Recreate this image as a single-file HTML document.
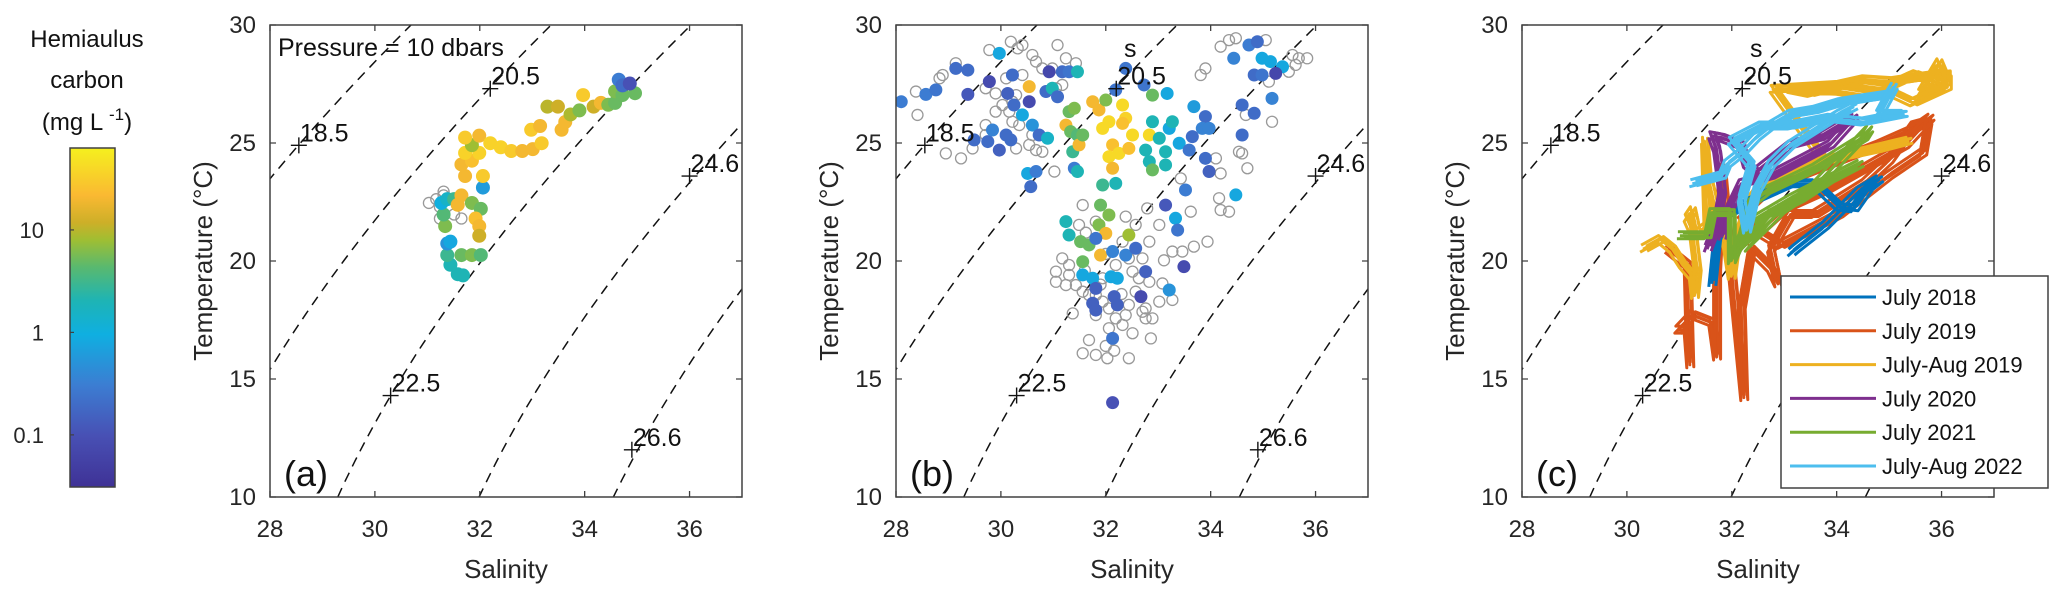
<!DOCTYPE html>
<html><head><meta charset="utf-8"><style>
html,body{margin:0;padding:0;background:#fff;}
svg{display:block;font-family:"Liberation Sans",sans-serif;}
</style></head><body>
<svg id="fig" width="2067" height="603" viewBox="0 0 2067 603" xmlns="http://www.w3.org/2000/svg">
<defs>
<linearGradient id="parula" x1="0" y1="1" x2="0" y2="0">
<stop offset="0" stop-color="rgb(63,50,150)"/><stop offset="0.15" stop-color="rgb(72,80,180)"/>
<stop offset="0.30" stop-color="rgb(60,125,210)"/><stop offset="0.45" stop-color="rgb(15,175,225)"/>
<stop offset="0.55" stop-color="rgb(30,180,180)"/><stop offset="0.65" stop-color="rgb(90,185,110)"/>
<stop offset="0.73" stop-color="rgb(160,190,50)"/><stop offset="0.78" stop-color="rgb(205,175,40)"/>
<stop offset="0.86" stop-color="rgb(250,185,50)"/><stop offset="1" stop-color="rgb(245,240,30)"/>
</linearGradient>
</defs>
<g>
<text x="87" y="47" font-size="24" text-anchor="middle" fill="#111">Hemiaulus</text>
<text x="87" y="88" font-size="24" text-anchor="middle" fill="#111">carbon</text>
<text x="87" y="130" font-size="24" text-anchor="middle" fill="#111">(mg L <tspan dy="-10" font-size="17">-1</tspan><tspan dy="10">)</tspan></text>
<rect x="70" y="148" width="45" height="339" fill="url(#parula)" stroke="#404040" stroke-width="1.5"/>
<g id="cbticks"></g>
</g>
<g id="panels"></g>
</svg>
<script>
// ---------- data ----------
const salTicks = [28, 30, 32, 34, 36];
const tempTicks = [10, 15, 20, 25, 30];
const cbTicks = [0.1, 1, 10];
const cbTickLabels = ['0.1', '1', '10'];
const sigmaLevels = [18.5, 20.5, 22.5, 24.6, 26.6];
const sigmaLabelPos = [[28.55, 24.9], [32.2, 27.3], [30.3, 14.3], [36.0, 23.6], [34.9, 12.0]];

// panel (a): [salinity, temperature, carbon mg/L]
const pointsA = [[31.58,19.44,2],[31.68,19.39,2],[31.44,19.84,2],[31.38,20.25,3],[31.65,20.25,5],[31.85,20.25,6],[32.02,20.25,4],[31.38,20.74,.5],[31.44,20.82,.8],[31.34,21.48,6],[31.31,21.97,4],[31.27,22.46,1],[31.38,22.62,1.5],[31.51,22.62,3],[31.58,22.38,20],[31.65,22.78,20],[31.85,22.46,6],[32.02,22.21,5],[31.92,21.8,25],[31.99,21.48,20],[31.99,21.07,12],[32.06,23.11,.6],[32.06,23.6,30],[31.72,23.6,20],[31.65,24.09,20],[31.85,24.25,25],[31.72,24.58,35],[31.99,24.58,35],[31.85,24.91,8],[31.72,25.23,30],[31.99,25.31,20],[32.2,24.99,35],[32.4,24.82,35],[32.6,24.66,30],[32.81,24.66,20],[33.01,24.74,20],[33.18,24.99,30],[32.98,25.56,30],[33.15,25.72,20],[33.29,26.54,10],[33.49,26.54,12],[33.56,25.56,20],[33.63,25.89,20],[33.73,26.21,9],[33.9,26.38,6],[33.97,27.03,30],[34.17,26.54,12],[34.31,26.7,20],[34.45,26.62,6],[34.58,26.7,5],[34.58,27.19,6],[34.96,27.11,5],[34.72,27.03,5],[34.65,27.68,.3],[34.72,27.44,.2],[34.86,27.52,.1]];
const grayA = [[31.03,22.46],[31.17,22.62],[31.31,22.78],[31.24,22.29],[31.51,21.97],[31.65,21.8],[31.24,21.8],[31.31,22.94]];

// panel (b)
const grayB = [[28.38,27.18],[28.41,26.19],[28.83,27.74],[28.89,27.88],[29.14,28.38],[29.71,27.32],[29.78,28.94],[29.90,27.10],[30.19,29.29],[30.32,29.01],[30.41,29.15],[30.60,28.73],[30.67,28.45],[30.03,26.61],[30.16,26.33],[30.22,25.90],[30.35,25.76],[30.60,25.34],[30.67,24.70],[30.79,24.63],[30.29,24.77],[29.90,26.33],[28.95,24.56],[29.24,24.35],[29.46,24.77],[29.71,25.34],[31.08,29.15],[31.24,28.59],[31.43,28.38],[31.02,23.79],[31.05,27.32],[31.17,27.46],[30.10,27.74],[29.71,25.76],[30.22,26.75],[30.29,27.03],[30.41,27.88],[30.79,28.16],[30.98,28.16],[30.54,24.92],
[34.19,29.08],[34.35,29.36],[34.48,29.44],[35.05,29.36],[35.56,28.73],[35.68,28.59],[35.84,28.59],[35.62,28.31],[35.49,28.02],[35.11,27.60],[35.17,25.90],[34.67,26.19],[34.54,24.63],[34.60,24.56],[34.70,23.93],[34.10,24.35],[34.19,23.71],[34.16,22.66],[34.19,22.16],[34.35,22.09],[33.81,27.88],[33.90,28.16],[33.43,23.50],[33.62,22.09],[33.94,20.82],[33.68,20.61],[33.46,20.40],[33.27,20.40],[33.11,20.03],[32.79,22.23],[33.02,21.53],[32.57,21.53],[32.38,21.88],[31.56,22.37],[31.37,17.78],[31.68,16.65],[31.56,16.09],[31.81,16.02],[32.03,15.88],[32.44,15.88],[32.51,16.94],[32.86,16.72],[32.76,17.99],[32.89,17.57],[33.02,18.28],[33.27,18.35],[33.08,19.05],[32.83,19.12],
[31.05,19.55],[31.17,20.11],[31.30,19.83],[31.43,18.98],[31.56,18.70],[31.68,18.56],[31.81,18.56],[31.94,18.28],[32.06,17.99],[32.19,17.57],[32.38,17.71],[32.44,18.14],[32.57,18.70],[32.63,19.27],[32.51,19.55],[32.70,20.11],[32.83,20.82],[31.81,21.67],[31.62,21.20],[31.49,21.53],[32.06,17.15],[32.32,17.29],[31.81,17.71],[31.94,19.27],[32.19,19.83],[32.44,20.11],[32.32,20.82],[31.05,19.12],[31.24,18.98],[31.30,19.41],[32.70,17.85],[32.76,17.57],[32.0,16.4],[32.16,16.2],[31.9,19.0],[32.3,18.6],[31.6,19.6],[32.0,20.3]];
const pointsB = [[28.10,26.75,.3],[28.57,27.06,.3],[28.76,27.25,.25],[29.14,28.16,.2],[29.37,28.09,.2],[29.37,27.06,.12],[29.78,27.6,.08],[29.97,28.8,.8],[29.49,25.13,.2],[29.75,25.06,.2],[29.84,25.55,.35],[29.97,24.7,.15],[30.10,25.34,.2],[30.19,25.13,.2],[30.22,27.88,.2],[30.13,27.10,.15],[30.25,26.61,.2],[30.41,26.19,.8],[30.54,26.75,.08],[30.54,27.39,20],[30.60,25.76,.5],[30.51,23.71,.8],[30.57,23.15,.2],[30.67,23.79,.3],[30.73,25.34,.2],[30.89,25.2,1.5],[30.92,28.02,.07],[30.86,27.18,.2],[30.98,27.32,2],[31.08,26.96,.2],[31.17,28.02,.2],[31.30,28.02,.25],[31.46,28.02,2],[31.30,26.33,5],[31.40,26.47,6],[31.24,25.76,20],[31.33,25.48,5],[31.46,25.34,4],[31.37,24.63,3],[31.49,24.92,20],[31.56,25.34,5],[31.40,23.93,.3],[31.46,23.79,2],[31.75,26.75,20],[31.87,26.40,20],[32.00,26.82,6],[32.19,27.25,.25],[31.94,25.62,40],[32.06,25.90,40],[32.32,26.61,40],[32.38,26.05,35],[32.32,25.83,25],[32.13,24.92,25],[32.25,24.56,40],[32.06,24.42,40],[32.13,23.93,20],[32.44,24.77,25],[32.51,25.34,40],[32.83,25.34,40],[32.89,25.90,2],[33.02,25.20,2],[33.21,25.62,.8],[33.27,25.90,2],[33.14,24.63,2],[32.83,24.21,2],[32.89,23.86,5],[33.14,24.07,2],[32.38,28.16,.25],[32.73,27.46,.25],[32.89,27.03,5],[33.17,27.10,.8],[32.76,24.70,2],[33.40,24.99,.8],[33.59,24.70,.25],[33.68,26.54,.6],[33.90,26.12,.2],[33.84,25.62,.35],[33.97,25.62,.35],[33.65,25.27,.2],[33.90,24.35,.2],[33.97,23.79,.15],[33.52,23.01,.3],[33.14,22.37,.12],[33.33,21.81,.8],[33.37,21.31,.25],[33.49,19.76,.08],[33.21,18.77,.5],[34.48,22.80,.8],[34.44,28.59,.35],[34.73,29.15,.3],[34.89,29.29,.2],[34.98,28.59,.8],[35.14,28.45,.8],[35.37,28.23,.8],[35.24,27.95,.07],[34.83,27.88,.2],[34.98,27.88,.25],[34.60,26.61,.2],[34.83,26.26,.2],[35.17,26.89,.35],[34.60,25.34,.2],
[31.94,23.22,3],[32.19,23.29,2],[31.90,22.37,5],[32.06,21.95,6],[31.87,21.53,6],[32.00,21.17,20],[32.44,21.10,8],[31.24,21.67,2],[31.30,21.10,2],[31.52,20.82,5],[31.68,20.68,5],[31.81,20.96,.25],[31.90,20.25,20],[32.13,20.40,.35],[32.38,20.25,.35],[32.57,20.54,.2],[31.56,19.97,5],[31.56,19.41,.8],[31.75,19.27,.8],[32.10,19.33,.8],[32.22,19.27,.8],[31.81,18.84,.15],[32.76,19.55,.15],[32.67,18.49,.08],[31.75,18.21,.15],[31.81,17.92,.15],[32.16,18.49,.15],[32.22,18.14,.15],[32.13,14.0,.1],[32.13,16.72,.25]];

// panel (c)
const seriesNames = ['July 2018', 'July 2019', 'July-Aug 2019', 'July 2020', 'July 2021', 'July-Aug 2022'];
const seriesColors = ['#0072BD', '#D95319', '#EDB120', '#7E2F8E', '#77AC30', '#4DBEEE'];
const july2018 = [[31.62,19.03],[31.71,20.99],[31.9,21.97],[32.46,22.62],[33.12,23.27],[33.58,23.27],[34.05,22.29],[34.33,22.21],[34.61,23.11],[34.8,23.44],[34.43,22.95],[33.77,21.48],[33.21,20.5],[33.12,20.33]];
const july2019 = [[30.78,20.5],[31.15,19.84],[31.2,15.6],[31.15,17.07],[30.97,17.07],[31.25,17.72],[31.62,17.4],[31.71,15.93],[31.71,19.68],[31.81,23.93],[31.99,19.68],[32.23,14.21],[32.18,18.05],[32.37,20.5],[32.74,19.68],[32.88,19.03],[32.74,20.5],[33.12,21.97],[33.58,21.97],[34.05,22.62],[34.52,23.27],[34.99,24.25],[35.46,25.72],[35.74,25.89],[35.64,24.58],[34.99,23.6],[34.05,21.97],[33.49,21.31],[32.93,20.66],[32.46,21.31],[32.18,21.97],[32.65,22.95],[33.3,23.6],[34.05,24.25],[34.8,24.91],[35.46,25.56],[35.78,26.05],[35.3,24.9],[34.6,24.0],[33.8,23.0],[33.0,22.2],[32.4,21.0]];
const julyAug2019 = [[30.31,20.5],[30.64,20.91],[30.87,20.5],[31.06,19.84],[31.25,19.35],[31.29,18.54],[31.34,19.68],[31.25,21.31],[31.15,21.8],[31.25,22.13],[31.34,21.15],[31.53,21.48],[31.48,25.07],[31.53,23.76],[31.71,21.97],[31.9,20.66],[31.99,19.35],[32.09,20.99],[32.37,22.62],[32.65,23.44],[33.49,24.09],[34.43,24.58],[35.36,25.07],[34.8,24.74],[33.77,24.25],[32.79,27.27],[34.05,27.44],[34.52,27.68],[35.08,27.6],[35.55,27.76],[36.11,27.93],[36.11,27.36],[35.46,26.7],[34.99,27.19],[34.52,27.03],[34.05,27.19],[33.12,27.27],[33.5,27.1],[34.2,27.5],[34.9,27.3],[35.5,27.9],[36.0,27.5],[35.6,27.1],[35.95,28.4],[36.1,27.6]];
const july2020 = [[31.53,20.5],[31.67,21.31],[31.81,22.95],[31.76,23.93],[31.71,24.74],[31.62,25.31],[31.81,25.23],[32.18,24.91],[32.28,24.09],[32.46,23.76],[32.74,24.25],[33.12,24.91],[33.68,25.23],[34.05,25.72],[34.33,26.05],[33.87,24.91],[33.3,24.25],[32.74,23.6],[32.18,23.27],[31.9,21.97],[31.81,20.99]];
const july2021 = [[31.01,21.07],[31.53,21.07],[31.62,22.05],[31.99,22.05],[31.99,20.01],[32.18,20.99],[32.37,22.46],[32.65,22.95],[33.12,23.44],[33.58,23.93],[34.05,24.58],[34.52,25.23],[34.61,25.56],[34.05,24.25],[33.49,22.95],[32.93,22.13],[32.56,21.31],[32.18,20.5],[32.74,21.97],[33.3,22.62],[33.87,23.44],[34.43,24.09],[33.12,22.62],[32.37,21.64]];
const julyAug2022 = [[31.25,23.27],[31.81,23.6],[31.9,24.09],[32.18,24.58],[32.46,25.23],[32.74,25.72],[33.12,26.21],[33.58,26.38],[34.05,26.7],[34.52,26.87],[34.99,27.03],[35.08,27.36],[34.8,26.21],[35.27,26.21],[34.52,25.89],[33.87,26.05],[33.12,25.72],[32.56,25.72],[31.99,25.07],[32.37,24.09],[32.18,22.62],[32.28,21.31],[32.46,22.95],[32.74,24.09],[33.12,24.91],[33.58,25.56],[34.05,26.21],[34.33,26.54]];
const seriesData = [july2018, july2019, julyAug2019, july2020, july2021, julyAug2022];

// ---------- helpers ----------
const NS = 'http://www.w3.org/2000/svg';
function mk(tag, attrs, parent) {
  const e = document.createElementNS(NS, tag);
  for (const k in attrs) e.setAttribute(k, attrs[k]);
  parent.appendChild(e);
  return e;
}
const PX0 = [270, 896, 1522], PW = 472, PT = 25, PB = 497;
const S_MIN = 28, S_MAX = 37, T_MIN = 10, T_MAX = 30;
function xScale(x0) { return s => x0 + (s - S_MIN) / (S_MAX - S_MIN) * PW; }
function yScale(t) { return PB - (t - T_MIN) / (T_MAX - T_MIN) * (PB - PT); }
const LMIN = Math.log10(0.031), LMAX = Math.log10(63);
function cbY(c) { return 487 - (Math.log10(c) - LMIN) / (LMAX - LMIN) * 339; }
const stops = [[0,[63,50,150]],[0.15,[72,80,180]],[0.30,[60,125,210]],[0.45,[15,175,225]],[0.55,[30,180,180]],[0.65,[90,185,110]],[0.73,[160,190,50]],[0.78,[205,175,40]],[0.86,[250,185,50]],[1,[245,240,30]]];
function colorOf(c) {
  let t = (Math.log10(c) - LMIN) / (LMAX - LMIN);
  t = Math.max(0, Math.min(1, t));
  for (let i = 1; i < stops.length; i++) {
    if (t <= stops[i][0]) {
      const a = stops[i-1], b = stops[i], f = (t - a[0]) / (b[0] - a[0]);
      const r = a[1].map((v, j) => Math.round(v + f * (b[1][j] - v)));
      return 'rgb(' + r.join(',') + ')';
    }
  }
  return 'rgb(245,240,30)';
}
function sigmaT(S, T) {
  const rw = 999.842594 + 6.793952e-2*T - 9.095290e-3*T*T + 1.001685e-4*T**3 - 1.120083e-6*T**4 + 6.536332e-9*T**5;
  const A = 0.824493 - 4.0899e-3*T + 7.6438e-5*T*T - 8.2467e-7*T**3 + 5.3875e-9*T**4;
  const B = -5.72466e-3 + 1.0227e-4*T - 1.6546e-6*T*T;
  return rw + A*S + B*Math.pow(S,1.5) + 4.8314e-4*S*S - 1000;
}
function salForSigma(sig, T) {
  let lo = 0, hi = 45;
  for (let i = 0; i < 50; i++) { const m = (lo+hi)/2; if (sigmaT(m,T) < sig) lo = m; else hi = m; }
  return (lo+hi)/2;
}

// colorbar ticks
const cbt = document.getElementById('cbticks');
cbTicks.forEach((v, i) => {
  const y = cbY(v);
  const tk = mk('line', {x1:70, x2:74, y1:y, y2:y, stroke:'#404040', 'stroke-width':1.2}, cbt);
  
  
  const tl = mk('text', {x:44, y:y+8, 'font-size':22, 'text-anchor':'end', fill:'#262626'}, cbt);
  tl.textContent = cbTickLabels[i];
  
  
});

// small pixel offsets used to render each trajectory as a thick bundle (styling only)
const strokeOffsets = [[0,0],[3,-3],[-3,3],[4,2],[-2,-4]];

const panelsG = document.getElementById('panels');
['a','b','c'].forEach((letter, pi) => {
  const x0 = PX0[pi], xs = xScale(x0);
  const g = mk('g', {}, panelsG);
  
  
  const clipId = 'clip' + letter;
  const cp = mk('clipPath', {id: clipId}, g);
  mk('rect', {x:x0, y:PT, width:PW, height:PB-PT}, cp);
  const plot = mk('g', {'clip-path':'url(#' + clipId + ')'}, g);
  
  

  sigmaLevels.forEach(sig => {
    let d = '';
    for (let T = 8; T <= 32; T += 0.25) {
      const s = salForSigma(sig, T);
      d += (d ? 'L' : 'M') + xs(s).toFixed(1) + ' ' + yScale(T).toFixed(1);
    }
    const p = mk('path', {d:d, fill:'none', stroke:'#111', 'stroke-width':1.5, 'stroke-dasharray':'10 7'}, plot);
    
    
  });

  if (pi === 0) {
    grayA.forEach(pt => {
      const c = mk('circle', {cx:xs(pt[0]), cy:yScale(pt[1]), r:5.5, fill:'none', stroke:'#999', 'stroke-width':1.3}, plot);
      
      
    });
    pointsA.forEach(pt => {
      const c = mk('circle', {cx:xs(pt[0]), cy:yScale(pt[1]), r:7, fill:colorOf(pt[2])}, plot);
      
      
    });
  } else if (pi === 1) {
    grayB.forEach(pt => {
      const c = mk('circle', {cx:xs(pt[0]), cy:yScale(pt[1]), r:5.5, fill:'none', stroke:'#999', 'stroke-width':1.3}, plot);
      
      
    });
    pointsB.forEach(pt => {
      const c = mk('circle', {cx:xs(pt[0]), cy:yScale(pt[1]), r:6.5, fill:colorOf(pt[2])}, plot);
      
      
    });
  } else {
    [1, 2, 0, 3, 4, 5].forEach(si => {
      const pts = seriesData[si];
      const sg = mk('g', {}, plot);
      
      
      strokeOffsets.forEach(o => {
        const d = pts.map((p, i) => (i ? 'L' : 'M') + (xs(p[0]) + o[0]).toFixed(1) + ' ' + (yScale(p[1]) + o[1]).toFixed(1)).join('');
        const pl = mk('path', {d:d, fill:'none', stroke:seriesColors[si], 'stroke-width':3, 'stroke-linejoin':'round'}, sg);
        
        
      });
    });
  }

  sigmaLevels.forEach((sig, i) => {
    const cx = xs(sigmaLabelPos[i][0]), cy = yScale(sigmaLabelPos[i][1]);
    const cr = mk('path', {d:'M'+(cx-8)+' '+cy+'H'+(cx+8)+'M'+cx+' '+(cy-8)+'V'+(cy+8), stroke:'#111', 'stroke-width':1.4}, g);
    
    
    const tl = mk('text', {x:cx+1, y:cy-4, 'font-size':25, fill:'#111'}, g);
    tl.textContent = sig.toFixed(1);
    
    
  });

  const fr = mk('rect', {x:x0, y:PT, width:PW, height:PB-PT, fill:'none', stroke:'#404040', 'stroke-width':1.5}, g);
  
  
  salTicks.forEach(s => {
    const x = xs(s);
    const t1 = mk('path', {d:'M'+x+' '+PB+'V'+(PB-6)+'M'+x+' '+PT+'V'+(PT+6), stroke:'#404040', 'stroke-width':1.3}, g);
    
    
    const tl = mk('text', {x:x, y:537, 'font-size':24, 'text-anchor':'middle', fill:'#262626'}, g);
    tl.textContent = s;
    
    
  });
  tempTicks.forEach(t => {
    const y = yScale(t);
    const t1 = mk('path', {d:'M'+x0+' '+y+'H'+(x0+6)+'M'+(x0+PW)+' '+y+'H'+(x0+PW-6), stroke:'#404040', 'stroke-width':1.3}, g);
    
    
    const tl = mk('text', {x:x0-14, y:y+8, 'font-size':24, 'text-anchor':'end', fill:'#262626'}, g);
    tl.textContent = t;
    
    
  });
  const xt = mk('text', {x:x0+PW/2, y:578, 'font-size':26, 'text-anchor':'middle', fill:'#262626'}, g);
  xt.textContent = 'Salinity';
  
  
  const yt = mk('text', {x:0, y:0, 'font-size':26, 'text-anchor':'middle', fill:'#262626', transform:'translate('+(x0-58)+','+((PT+PB)/2)+') rotate(-90)'}, g);
  yt.textContent = 'Temperature (°C)';
  
  
  const pl = mk('text', {x:x0+14, y:486, 'font-size':36, fill:'#111'}, g);
  pl.textContent = '(' + letter + ')';
  
  
  if (pi === 0) {
    const pr = mk('text', {x:x0+8, y:56, 'font-size':25, fill:'#111'}, g);
    pr.textContent = 'Pressure = 10 dbars';
    
    
  } else {
    const s = mk('text', {x:x0+228, y:57, 'font-size':25, fill:'#111'}, g);
    s.textContent = 's';
    
    
  }
  if (pi === 2) {
    const lg = mk('g', {}, g);
    
    
    const lb = mk('rect', {x:1781, y:276, width:267, height:212, fill:'#fff', stroke:'#404040', 'stroke-width':1.5}, lg);
    
    
    seriesNames.forEach((nm, i) => {
      const y = 297 + i * 33.8;
      const ln = mk('line', {x1:1790, x2:1876, y1:y, y2:y, stroke:seriesColors[i], 'stroke-width':3}, lg);
      
      
      const tx = mk('text', {x:1882, y:y+8, 'font-size':22, fill:'#111'}, lg);
      tx.textContent = nm;
      
      
    });
  }
});
</script>
</body></html>
